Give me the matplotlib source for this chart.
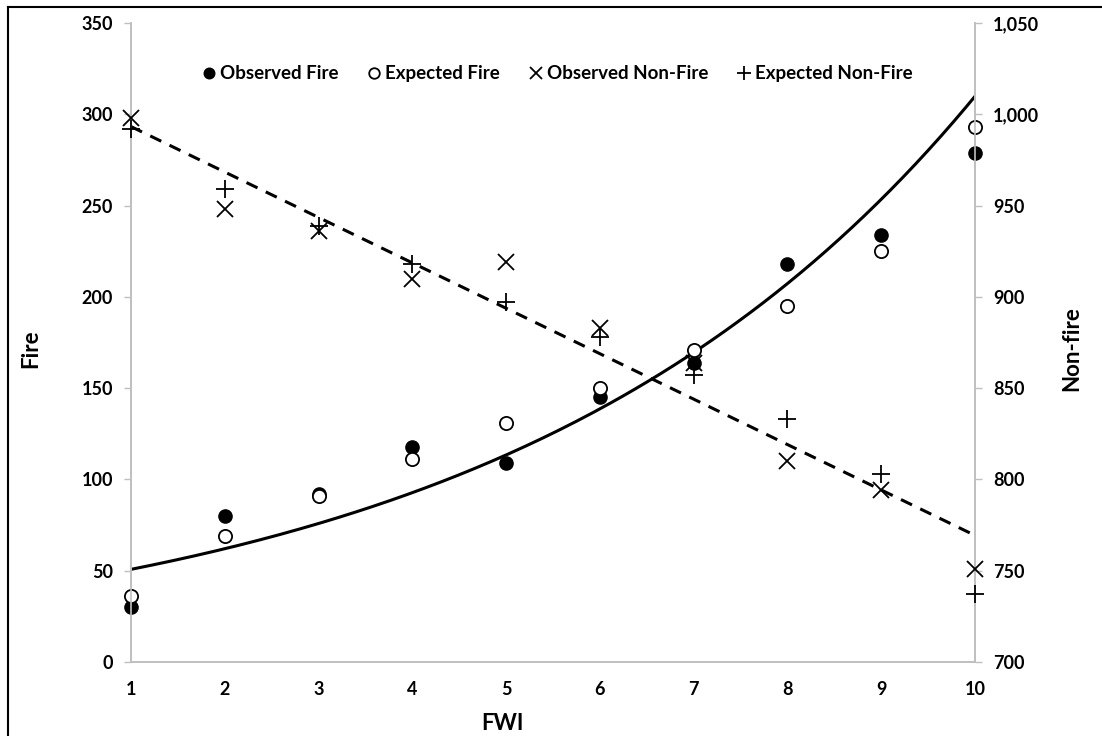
import matplotlib
matplotlib.use("Agg")
import matplotlib.pyplot as plt
import numpy as np

plt.rcParams['font.family'] = ['Lato', 'DejaVu Sans']
plt.rcParams['font.weight'] = 'bold'

fwi = [1, 2, 3, 4, 5, 6, 7, 8, 9, 10]
obs_fire = [30, 80, 92, 118, 109, 145, 164, 218, 234, 279]
exp_fire = [36, 69, 91, 111, 131, 150, 171, 195, 225, 293]
obs_nonfire = [998, 948, 936, 910, 919, 883, 864, 810, 794, 751]
exp_nonfire = [992, 959, 939, 918, 897, 878, 857, 833, 803, 737]

# trendlines: exponential fit for fire, linear fit for non-fire
xs = np.linspace(1, 10, 200)
b, a = np.polyfit(fwi, np.log(obs_fire), 1)
fire_trend = np.exp(a + b * xs)
m, c = np.polyfit(fwi, obs_nonfire, 1)
nonfire_trend = m * xs + c

fig = plt.figure(figsize=(11.02, 7.36), dpi=100)
ax = fig.add_axes([131 / 1102, 1 - 662 / 736, (975 - 131) / 1102, (662 - 23) / 736])
ax2 = ax.twinx()

ax.plot(xs, fire_trend, color='black', lw=2.2, zorder=2)
ax2.plot(xs, nonfire_trend, color='black', lw=2.2, ls=(0, (4, 3)), zorder=2)

h1, = ax.plot(fwi, obs_fire, 'o', color='black', ms=9.5, ls='none', clip_on=False, zorder=3)
h2, = ax.plot(fwi, exp_fire, 'o', mfc='white', mec='black', mew=1.3, ms=9.5, ls='none', clip_on=False, zorder=4)
h3, = ax2.plot(fwi, obs_nonfire, 'x', color='black', mew=1.3, ms=11, ls='none', clip_on=False, zorder=3)
h4, = ax2.plot(fwi, exp_nonfire, '+', color='black', mew=1.3, ms=13, ls='none', clip_on=False, zorder=3)

ax.set_xlim(1, 10)
ax.set_ylim(0, 350)
ax2.set_ylim(700, 1050)
ax.set_xticks(fwi)
ax.set_yticks(range(0, 351, 50))
ax2.set_yticks(range(700, 1051, 50))
ax2.set_yticklabels([f"{v:,}" for v in range(700, 1051, 50)])

gray = '#bfbfbf'
for a_ in (ax, ax2):
    a_.spines['top'].set_visible(False)
    for s in ('left', 'right', 'bottom'):
        a_.spines[s].set_color(gray)
        a_.spines[s].set_linewidth(1.2)
    a_.tick_params(axis='both', colors=gray, labelcolor='black', labelsize=13, length=5, width=1, pad=8)
ax.tick_params(axis='x', length=0, pad=14)

ax.set_xlabel('FWI', fontsize=16, fontweight='bold')
ax.xaxis.set_label_coords(0.44, -0.08)
ax.set_ylabel('Fire', fontsize=16, fontweight='bold')
ax.yaxis.set_label_coords(-0.106, 0.49)
ax2.set_ylabel('Non-fire', fontsize=16, fontweight='bold')
ax2.yaxis.set_label_coords(1.102, 0.49)

leg = ax.legend([h1, h2, h3, h4],
                ['Observed Fire', 'Expected Fire', 'Observed Non-Fire', 'Expected Non-Fire'],
                ncol=4, frameon=False, loc='upper center', bbox_to_anchor=(0.506, 0.96),
                handlelength=0.6, handletextpad=0.3, columnspacing=1.6, fontsize=13.5,
                markerscale=0.8)

# frame lines on the left and top of the picture
fig.add_artist(plt.Line2D([8 / 1102, 8 / 1102], [0, 1 - 7 / 736], transform=fig.transFigure, color='black', lw=1.5))
fig.add_artist(plt.Line2D([8 / 1102, 1], [1 - 7 / 736, 1 - 7 / 736], transform=fig.transFigure, color='black', lw=1.5))

fig.savefig('out.png', dpi=100)
